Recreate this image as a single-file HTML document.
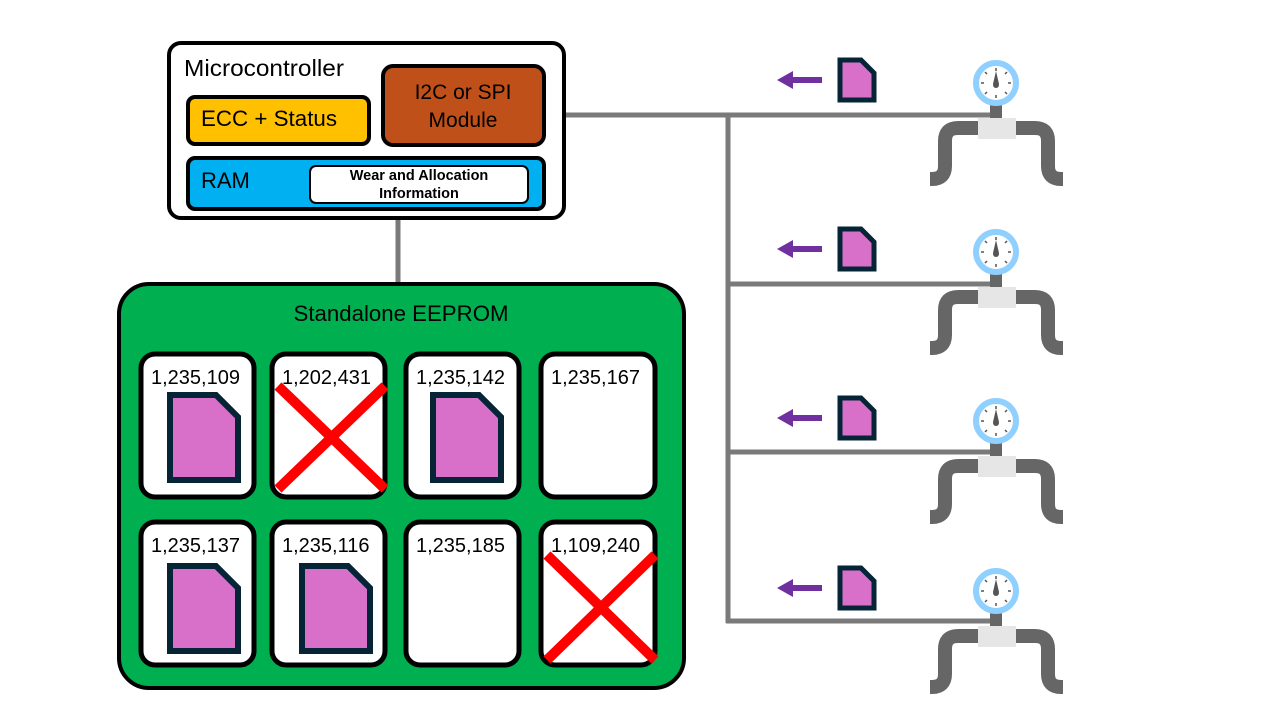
<!DOCTYPE html>
<html><head><meta charset="utf-8"><style>
body{margin:0;background:#fff}
svg{display:block}
text{font-family:"Liberation Sans",sans-serif}
</style></head><body>
<svg width="1280" height="720" viewBox="0 0 1280 720" xmlns="http://www.w3.org/2000/svg">
<g stroke="#7a7a7a" stroke-width="5" fill="none">
<line x1="398" y1="219" x2="398" y2="285"/>
<line x1="565" y1="115" x2="1000" y2="115"/>
<line x1="728" y1="115" x2="728" y2="623"/>
<line x1="728" y1="284" x2="1000" y2="284"/>
<line x1="728" y1="452" x2="1000" y2="452"/>
<line x1="726" y1="621" x2="1000" y2="621"/>
</g>
<rect x="169" y="43" width="395" height="175" rx="12" fill="#fff" stroke="#000" stroke-width="4"/>
<text x="184" y="76" font-size="23.5" textLength="160" lengthAdjust="spacingAndGlyphs">Microcontroller</text>
<rect x="188" y="97" width="181" height="47" rx="7" fill="#FFC000" stroke="#000" stroke-width="4"/>
<text x="201" y="126" font-size="22" textLength="136" lengthAdjust="spacingAndGlyphs">ECC + Status</text>
<rect x="383" y="66" width="161" height="79" rx="10" fill="#C0501A" stroke="#000" stroke-width="4"/>
<text x="463" y="99" font-size="21" text-anchor="middle">I2C or SPI</text>
<text x="463" y="127" font-size="21" text-anchor="middle">Module</text>
<rect x="188" y="158" width="356" height="51" rx="7" fill="#00B0F0" stroke="#000" stroke-width="4"/>
<text x="201" y="188" font-size="22">RAM</text>
<rect x="310" y="166" width="218" height="37" rx="6" fill="#fff" stroke="#000" stroke-width="2"/>
<text x="419" y="180" font-size="14.5" font-weight="bold" text-anchor="middle">Wear and Allocation</text>
<text x="419" y="198" font-size="14.5" font-weight="bold" text-anchor="middle">Information</text>
<rect x="119" y="284" width="565" height="404" rx="30" fill="#00B050" stroke="#000" stroke-width="4"/>
<text x="401" y="321" font-size="22" text-anchor="middle" textLength="215" lengthAdjust="spacingAndGlyphs">Standalone EEPROM</text>
<g stroke="#000" stroke-width="5" fill="#fff">
<rect x="141" y="354" width="113" height="143" rx="14"/>
<rect x="272" y="354" width="113" height="143" rx="14"/>
<rect x="406" y="354" width="113" height="143" rx="14"/>
<rect x="541" y="354" width="114" height="143" rx="14"/>
<rect x="141" y="522" width="113" height="143" rx="14"/>
<rect x="272" y="522" width="113" height="143" rx="14"/>
<rect x="406" y="522" width="113" height="143" rx="14"/>
<rect x="541" y="522" width="114" height="143" rx="14"/>
</g>
<g font-size="20">
<text x="151" y="384">1,235,109</text>
<text x="282" y="384">1,202,431</text>
<text x="416" y="384">1,235,142</text>
<text x="551" y="384">1,235,167</text>
<text x="151" y="552">1,235,137</text>
<text x="282" y="552">1,235,116</text>
<text x="416" y="552">1,235,185</text>
<text x="551" y="552">1,109,240</text>
</g>
<g fill="#D86FC8" stroke="#052436" stroke-width="6" stroke-linejoin="miter">
<path d="M170,395 H216 L238,417 V480 H170 Z"/>
<path d="M433,395 H479 L501,417 V480 H433 Z"/>
<path d="M170,566 H216 L238,588 V651 H170 Z"/>
<path d="M302,566 H348 L370,588 V651 H302 Z"/>
</g>
<g stroke="#FF0000" stroke-width="10">
<line x1="278" y1="386" x2="385" y2="489"/><line x1="385" y1="386" x2="278" y2="489"/>
<line x1="547" y1="555" x2="655" y2="660"/><line x1="655" y1="555" x2="547" y2="660"/>
</g>
<g transform="translate(0,0)">
<polygon points="777,80 793,71 793,77 822,77 822,83 793,83 793,89" fill="#7030A0"/>
<path d="M840,60 H861 L874,73 V100 H840 Z" fill="#D86FC8" stroke="#052436" stroke-width="5"/>
<rect x="990" y="104" width="12" height="16" fill="#666"/>
<circle cx="996" cy="83" r="20" fill="#fff" stroke="#90D0FF" stroke-width="6"/>
<g stroke="#555" stroke-width="1.5">
<line x1="996" y1="68" x2="996" y2="71"/><line x1="996" y1="95" x2="996" y2="98"/>
<line x1="981" y1="83" x2="984" y2="83"/><line x1="1008" y1="83" x2="1011" y2="83"/>
<line x1="985" y1="72" x2="987" y2="74"/><line x1="1005" y1="92" x2="1007" y2="94"/>
<line x1="1007" y1="72" x2="1005" y2="74"/><line x1="985" y1="94" x2="987" y2="92"/>
</g>
<polygon points="996,71 999,84 993,84" fill="#555"/><circle cx="996" cy="85" r="3" fill="#555"/>
<path d="M978,128 H958 Q945,128 945,141 V166 Q945,179 932,179 H930 M1016,128 H1035 Q1048,128 1048,141 V166 Q1048,179 1061,179 H1063" fill="none" stroke="#666" stroke-width="14"/>
<rect x="978" y="118" width="38" height="21" fill="#E6E6E6"/>
</g>
<g transform="translate(0,169)">
<polygon points="777,80 793,71 793,77 822,77 822,83 793,83 793,89" fill="#7030A0"/>
<path d="M840,60 H861 L874,73 V100 H840 Z" fill="#D86FC8" stroke="#052436" stroke-width="5"/>
<rect x="990" y="104" width="12" height="16" fill="#666"/>
<circle cx="996" cy="83" r="20" fill="#fff" stroke="#90D0FF" stroke-width="6"/>
<g stroke="#555" stroke-width="1.5">
<line x1="996" y1="68" x2="996" y2="71"/><line x1="996" y1="95" x2="996" y2="98"/>
<line x1="981" y1="83" x2="984" y2="83"/><line x1="1008" y1="83" x2="1011" y2="83"/>
<line x1="985" y1="72" x2="987" y2="74"/><line x1="1005" y1="92" x2="1007" y2="94"/>
<line x1="1007" y1="72" x2="1005" y2="74"/><line x1="985" y1="94" x2="987" y2="92"/>
</g>
<polygon points="996,71 999,84 993,84" fill="#555"/><circle cx="996" cy="85" r="3" fill="#555"/>
<path d="M978,128 H958 Q945,128 945,141 V166 Q945,179 932,179 H930 M1016,128 H1035 Q1048,128 1048,141 V166 Q1048,179 1061,179 H1063" fill="none" stroke="#666" stroke-width="14"/>
<rect x="978" y="118" width="38" height="21" fill="#E6E6E6"/>
</g>
<g transform="translate(0,338)">
<polygon points="777,80 793,71 793,77 822,77 822,83 793,83 793,89" fill="#7030A0"/>
<path d="M840,60 H861 L874,73 V100 H840 Z" fill="#D86FC8" stroke="#052436" stroke-width="5"/>
<rect x="990" y="104" width="12" height="16" fill="#666"/>
<circle cx="996" cy="83" r="20" fill="#fff" stroke="#90D0FF" stroke-width="6"/>
<g stroke="#555" stroke-width="1.5">
<line x1="996" y1="68" x2="996" y2="71"/><line x1="996" y1="95" x2="996" y2="98"/>
<line x1="981" y1="83" x2="984" y2="83"/><line x1="1008" y1="83" x2="1011" y2="83"/>
<line x1="985" y1="72" x2="987" y2="74"/><line x1="1005" y1="92" x2="1007" y2="94"/>
<line x1="1007" y1="72" x2="1005" y2="74"/><line x1="985" y1="94" x2="987" y2="92"/>
</g>
<polygon points="996,71 999,84 993,84" fill="#555"/><circle cx="996" cy="85" r="3" fill="#555"/>
<path d="M978,128 H958 Q945,128 945,141 V166 Q945,179 932,179 H930 M1016,128 H1035 Q1048,128 1048,141 V166 Q1048,179 1061,179 H1063" fill="none" stroke="#666" stroke-width="14"/>
<rect x="978" y="118" width="38" height="21" fill="#E6E6E6"/>
</g>
<g transform="translate(0,508)">
<polygon points="777,80 793,71 793,77 822,77 822,83 793,83 793,89" fill="#7030A0"/>
<path d="M840,60 H861 L874,73 V100 H840 Z" fill="#D86FC8" stroke="#052436" stroke-width="5"/>
<rect x="990" y="104" width="12" height="16" fill="#666"/>
<circle cx="996" cy="83" r="20" fill="#fff" stroke="#90D0FF" stroke-width="6"/>
<g stroke="#555" stroke-width="1.5">
<line x1="996" y1="68" x2="996" y2="71"/><line x1="996" y1="95" x2="996" y2="98"/>
<line x1="981" y1="83" x2="984" y2="83"/><line x1="1008" y1="83" x2="1011" y2="83"/>
<line x1="985" y1="72" x2="987" y2="74"/><line x1="1005" y1="92" x2="1007" y2="94"/>
<line x1="1007" y1="72" x2="1005" y2="74"/><line x1="985" y1="94" x2="987" y2="92"/>
</g>
<polygon points="996,71 999,84 993,84" fill="#555"/><circle cx="996" cy="85" r="3" fill="#555"/>
<path d="M978,128 H958 Q945,128 945,141 V166 Q945,179 932,179 H930 M1016,128 H1035 Q1048,128 1048,141 V166 Q1048,179 1061,179 H1063" fill="none" stroke="#666" stroke-width="14"/>
<rect x="978" y="118" width="38" height="21" fill="#E6E6E6"/>
</g>
</svg>
</body></html>
